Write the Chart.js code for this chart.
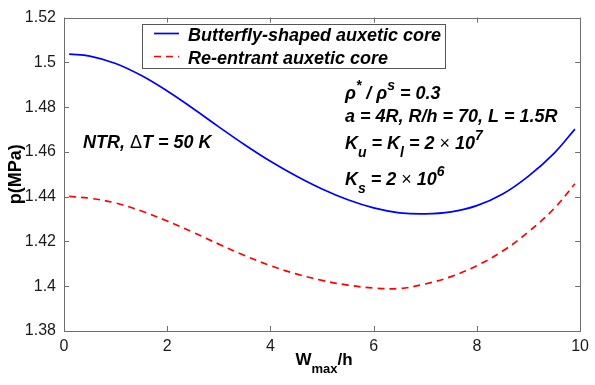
<!DOCTYPE html>
<html>
<head>
<meta charset="utf-8">
<script src="https://cdn.jsdelivr.net/npm/chart.js@4.4.0/dist/chart.umd.min.js"></script>
<style>
  body { margin: 0; background: #fff; }
  #wrap { width: 595px; height: 385px; }
</style>
</head>
<body>
<div id="wrap"><canvas id="pressure" width="595" height="385"></canvas></div>
<script>
// values
const w_over_h = [0.1, 0.5, 1, 1.5, 2, 2.5, 3, 3.5, 4, 4.5, 5, 5.5, 6, 6.5, 7, 7.5, 8, 8.5, 9, 9.5, 9.9];
const butterfly = [1.5037, 1.5028, 1.4995, 1.4941, 1.4872, 1.4794, 1.4712, 1.4632, 1.4558, 1.4492, 1.4434,
                   1.4386, 1.4350, 1.4328, 1.4323, 1.4332, 1.4360, 1.4412, 1.4492, 1.4595, 1.4702];
const reentrant = [1.4401, 1.4393, 1.4372, 1.4336, 1.4291, 1.4241, 1.4188, 1.4137, 1.4092, 1.4055, 1.4026,
                   1.4005, 1.3992, 1.3990, 1.4010, 1.4043, 1.4092, 1.4157, 1.4243, 1.4348, 1.4458];
const series_labels = ['Butterfly-shaped auxetic core', 'Re-entrant auxetic core'];
const x_ticks = [0, 2, 4, 6, 8, 10];
const y_ticks = [1.38, 1.40, 1.42, 1.44, 1.46, 1.48, 1.50, 1.52];

const FONT = '"Liberation Sans", Arial, sans-serif';
const AXIS_COLOR = '#6e6e6e';

function toPoints(ys) {
    return ys.map((y, i) => ({ x: w_over_h[i], y: y }));
}

// draws a run of text pieces: [text, kind] where kind is n / sup / sub / x (times sign)
function drawRich(ctx, x, y, parts, size) {
    let cx = x;
    parts.forEach(p => {
        let txt = p[0], kind = p[1] || 'n';
        let fs = size, dy = 0;
        if (kind === 'sup') { fs = Math.round(size * 0.75); dy = -9; }
        if (kind === 'sub') { fs = Math.round(size * 0.75); dy = 8; }
        ctx.font = 'italic bold ' + fs + 'px ' + FONT;
        if (kind === 'x') ctx.font = 'normal ' + fs + 'px ' + FONT;
        ctx.fillText(txt, cx, y + dy);
        cx += ctx.measureText(txt).width;
    });
    return cx - x;
}

const decorations = {
    id: 'decorations',
    afterDraw(chart) {
        const ctx = chart.ctx;
        const a = chart.chartArea;
        const xs = chart.scales.x, ys = chart.scales.y;
        ctx.save();

        // box + inward ticks (matlab style)
        ctx.strokeStyle = AXIS_COLOR;
        ctx.lineWidth = 1;
        ctx.strokeRect(Math.round(a.left) + 0.5, Math.round(a.top) + 0.5,
                       Math.round(a.right - a.left), Math.round(a.bottom - a.top));
        ctx.beginPath();
        x_ticks.forEach(v => {
            const px = Math.round(xs.getPixelForValue(v)) + 0.5;
            ctx.moveTo(px, a.bottom); ctx.lineTo(px, a.bottom - 5);
            ctx.moveTo(px, a.top); ctx.lineTo(px, a.top + 5);
        });
        y_ticks.forEach(v => {
            const py = Math.round(ys.getPixelForValue(v)) + 0.5;
            ctx.moveTo(a.left, py); ctx.lineTo(a.left + 5, py);
            ctx.moveTo(a.right, py); ctx.lineTo(a.right - 5, py);
        });
        ctx.stroke();

        // legend
        ctx.fillStyle = '#fff';
        ctx.fillRect(142, 24, 304, 45);
        ctx.strokeStyle = '#555';
        ctx.strokeRect(142.5, 24.5, 303, 44);
        const rows = [33.5, 56.5];
        chart.data.datasets.forEach((ds, i) => {
            ctx.strokeStyle = ds.borderColor;
            ctx.lineWidth = ds.borderWidth;
            ctx.setLineDash(ds.borderDash || []);
            ctx.beginPath();
            ctx.moveTo(154, rows[i]); ctx.lineTo(179, rows[i]);
            ctx.stroke();
            ctx.setLineDash([]);
            ctx.fillStyle = '#000';
            ctx.font = 'italic bold 18px ' + FONT;
            ctx.textAlign = 'left';
            ctx.textBaseline = 'alphabetic';
            ctx.fillText(ds.label, 188, rows[i] + 7);
        });

        // annotations
        ctx.fillStyle = '#000';
        ctx.textAlign = 'left';
        ctx.textBaseline = 'alphabetic';
        drawRich(ctx, 83, 148, [['NTR, '], ['\u0394', 'x'], ['T = 50 K']], 18);
        drawRich(ctx, 345, 99, [['\u03c1'], ['*', 'sup'], [' / \u03c1'], ['s', 'sup'], [' = 0.3']], 18);
        drawRich(ctx, 345, 122, [['a = 4R, R/h = 70, L = 1.5R']], 18);
        drawRich(ctx, 345, 149, [['K'], ['u', 'sub'], [' = K'], ['l', 'sub'], [' = 2 '], ['\u00d7', 'x'], [' 10'], ['7', 'sup']], 18);
        drawRich(ctx, 345, 185, [['K'], ['s', 'sub'], [' = 2 '], ['\u00d7', 'x'], [' 10'], ['6', 'sup']], 18);

        // axis titles
        ctx.font = 'bold 18px ' + FONT;
        ctx.save();
        ctx.translate(21, (a.top + a.bottom) / 2);
        ctx.rotate(-Math.PI / 2);
        ctx.textAlign = 'center';
        ctx.fillText('p(MPa)', 0, 0);
        ctx.restore();

        ctx.font = 'bold 17px ' + FONT;
        const wW = ctx.measureText('W').width, wH = ctx.measureText('/h').width;
        ctx.font = 'bold 13px ' + FONT;
        const wM = ctx.measureText('max').width;
        let sx = (a.left + a.right) / 2 - (wW + wM + wH) / 2 + 2;
        ctx.font = 'bold 17px ' + FONT;
        ctx.fillText('W', sx, 365);
        ctx.font = 'bold 13px ' + FONT;
        ctx.fillText('max', sx + wW, 373);
        ctx.font = 'bold 17px ' + FONT;
        ctx.fillText('/h', sx + wW + wM, 365);

        ctx.restore();
    }
};

new Chart(document.getElementById('pressure'), {
    type: 'line',
    data: {
        datasets: [{
            label: series_labels[0],
            data: toPoints(butterfly),
            borderColor: '#0000ff',
            borderWidth: 1.7,
            pointRadius: 0,
            tension: 0.4,
            fill: false
        }, {
            label: series_labels[1],
            data: toPoints(reentrant),
            borderColor: '#ff0000',
            borderWidth: 1.7,
            borderDash: [7, 5],
            pointRadius: 0,
            tension: 0.4,
            fill: false
        }]
    },
    options: {
        responsive: false,
        animation: false,
        layout: { padding: { top: 14, right: 11, left: 0, bottom: 0 } },
        plugins: {
            legend: { display: false },
            tooltip: { enabled: false }
        },
        scales: {
            x: {
                type: 'linear',
                min: 0, max: 10,
                afterBuildTicks: s => { s.ticks = x_ticks.map(v => ({ value: v })); },
                afterFit: s => { s.height = 54; },
                grid: { display: false, drawTicks: false },
                border: { display: false },
                ticks: { font: { size: 16, family: FONT }, color: '#1a1a1a', padding: 6, maxRotation: 0 }
            },
            y: {
                type: 'linear',
                min: 1.38, max: 1.52,
                afterBuildTicks: s => { s.ticks = y_ticks.map(v => ({ value: v })); },
                afterFit: s => { s.width = 64; },
                grid: { display: false, drawTicks: false },
                border: { display: false },
                ticks: {
                    font: { size: 16, family: FONT }, color: '#1a1a1a', padding: 8,
                    callback: v => String(+v.toFixed(2))
                }
            }
        }
    },
    plugins: [decorations]
});
</script>
</body>
</html>
